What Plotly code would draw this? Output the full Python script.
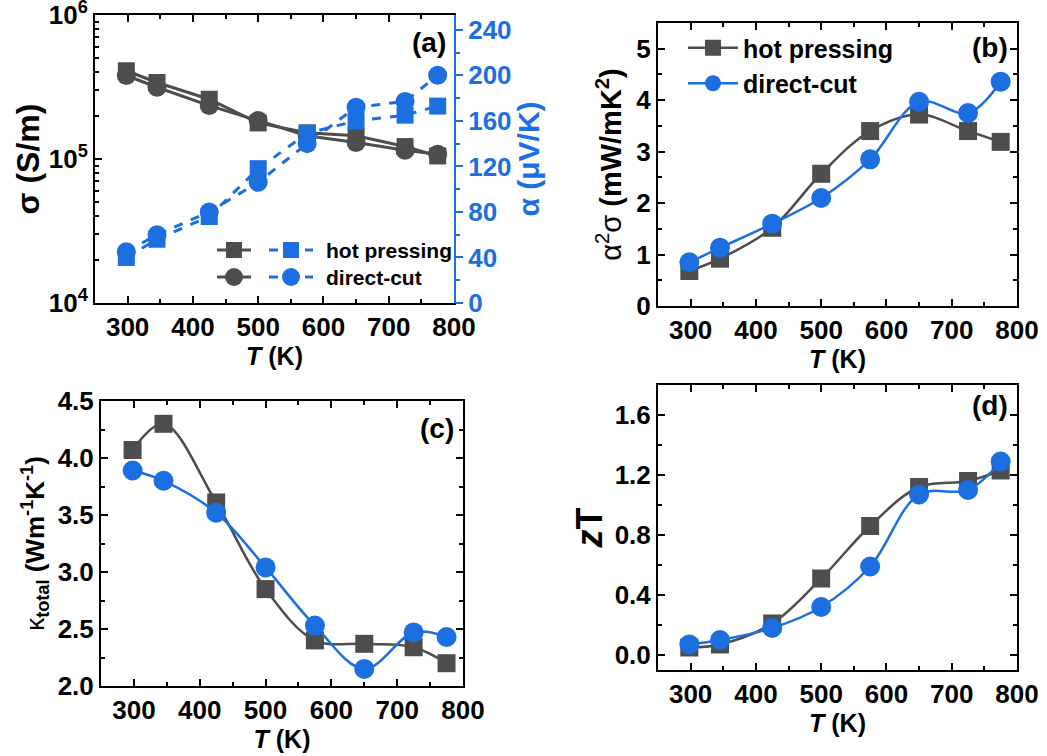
import plotly.graph_objects as go

# ---------------- data ----------------
T = [298, 345, 425, 500, 575, 650, 725, 775]

sigma_hp = [4.1e5, 3.4e5, 2.6e5, 1.78e5, 1.52e5, 1.45e5, 1.22e5, 1.05e5]
sigma_dc = [3.8e5, 3.15e5, 2.35e5, 1.85e5, 1.45e5, 1.30e5, 1.15e5, 1.08e5]
alpha_hp = [40, 56, 76, 118, 149, 160, 165, 173]
alpha_dc = [45, 60, 80, 106, 140, 172, 177, 200]

pf_hp = [0.68, 0.92, 1.52, 2.57, 3.40, 3.72, 3.40, 3.19]
pf_dc = [0.85, 1.13, 1.60, 2.10, 2.85, 3.97, 3.75, 4.36]

kappa_hp = [4.07, 4.30, 3.61, 2.85, 2.40, 2.37, 2.34, 2.20]
kappa_dc = [3.89, 3.80, 3.52, 3.04, 2.53, 2.15, 2.47, 2.43]

zt_hp = [0.05, 0.07, 0.21, 0.51, 0.86, 1.12, 1.16, 1.23]
zt_dc = [0.07, 0.10, 0.18, 0.32, 0.59, 1.07, 1.10, 1.29]

x_ticks = [300, 400, 500, 600, 700, 800]
sigma_ticks = [1e4, 1e5, 1e6]
sigma_ticktext = ["10<sup>4</sup>", "10<sup>5</sup>", "10<sup>6</sup>"]
sigma_minor = [k * 10 ** e for e in (4, 5) for k in range(2, 10)]

series_names = ["hot pressing", "direct-cut"]

# ---------------- style ----------------
W, H = 1047, 756
GRAY = "#4d4d4d"
BLUE = "#1b6fe0"
FONT = "Liberation Sans"
TICKFONT = dict(family=FONT, size=26, color="black", weight="bold")


def px(x):
    return x / W


def py(y):
    return (H - y) / H


fig = go.Figure()

# ---- panel (a) ----
fig.add_trace(go.Scatter(x=T, y=sigma_hp, xaxis="x", yaxis="y", mode="lines+markers",
                         line=dict(color=GRAY, width=3), marker=dict(symbol="square", size=17, color=GRAY),
                         showlegend=False))
fig.add_trace(go.Scatter(x=T, y=sigma_dc, xaxis="x", yaxis="y", mode="lines+markers",
                         line=dict(color=GRAY, width=3), marker=dict(symbol="circle", size=19, color=GRAY),
                         showlegend=False))
fig.add_trace(go.Scatter(x=T, y=alpha_hp, xaxis="x", yaxis="y2", mode="lines+markers",
                         line=dict(color=BLUE, width=3, dash="dash"),
                         marker=dict(symbol="square", size=17, color=BLUE), showlegend=False))
fig.add_trace(go.Scatter(x=T, y=alpha_dc, xaxis="x", yaxis="y2", mode="lines+markers",
                         line=dict(color=BLUE, width=3, dash="dash"),
                         marker=dict(symbol="circle", size=19, color=BLUE), showlegend=False))

# ---- panel (b) ----
fig.add_trace(go.Scatter(x=T, y=pf_hp, xaxis="x2", yaxis="y3", mode="lines+markers", name=series_names[0],
                         line=dict(color=GRAY, width=2.5, shape="spline"),
                         marker=dict(symbol="square", size=18, color=GRAY), showlegend=True))
fig.add_trace(go.Scatter(x=T, y=pf_dc, xaxis="x2", yaxis="y3", mode="lines+markers", name=series_names[1],
                         line=dict(color=BLUE, width=2.5, shape="spline"),
                         marker=dict(symbol="circle", size=20, color=BLUE), showlegend=True))

# ---- panel (c) ----
fig.add_trace(go.Scatter(x=T, y=kappa_hp, xaxis="x3", yaxis="y4", mode="lines+markers",
                         line=dict(color=GRAY, width=2.5, shape="spline"),
                         marker=dict(symbol="square", size=18, color=GRAY), showlegend=False))
fig.add_trace(go.Scatter(x=T, y=kappa_dc, xaxis="x3", yaxis="y4", mode="lines+markers",
                         line=dict(color=BLUE, width=2.5, shape="spline"),
                         marker=dict(symbol="circle", size=20, color=BLUE), showlegend=False))

# ---- panel (d) ----
fig.add_trace(go.Scatter(x=T, y=zt_hp, xaxis="x4", yaxis="y5", mode="lines+markers",
                         line=dict(color=GRAY, width=2.5, shape="spline"),
                         marker=dict(symbol="square", size=18, color=GRAY), showlegend=False))
fig.add_trace(go.Scatter(x=T, y=zt_dc, xaxis="x4", yaxis="y5", mode="lines+markers",
                         line=dict(color=BLUE, width=2.5, shape="spline"),
                         marker=dict(symbol="circle", size=20, color=BLUE), showlegend=False))


def xaxis_common(domain, anchor):
    return dict(domain=domain, anchor=anchor, range=[250, 800], tickvals=x_ticks,
                ticktext=[str(v) for v in x_ticks], automargin=False, ticklabeloverflow="allow",
                ticks="inside", ticklen=7, tickwidth=2, tickcolor="black",
                minor=dict(dtick=50, tick0=250, ticks="inside", ticklen=4, tickwidth=2, tickcolor="black"),
                showline=True, linecolor="black", linewidth=2, mirror="ticks",
                showgrid=False, zeroline=False, tickfont=TICKFONT,
                title=dict(text="<i>T</i> (K)", font=dict(family=FONT, size=25, weight="bold", color="black"),
                           standoff=0))


def yaxis_common(domain, anchor, rng, tickvals, ticktext, minor_dtick, title, tsize, standoff, weight="normal"):
    return dict(domain=domain, anchor=anchor, range=rng, tickvals=tickvals, ticktext=ticktext,
                automargin=False, ticklabeloverflow="allow",
                ticks="inside", ticklen=7, tickwidth=2, tickcolor="black",
                minor=dict(dtick=minor_dtick, tick0=0, ticks="inside", ticklen=4, tickwidth=2, tickcolor="black"),
                showline=True, linecolor="black", linewidth=2, mirror="ticks",
                showgrid=False, zeroline=False, tickfont=TICKFONT,
                title=dict(text=title, font=dict(family=FONT, size=tsize, color="black", weight=weight),
                           standoff=standoff))


dom_a_x = [px(95), px(454)]
dom_a_y = [py(303), py(15)]
dom_b_x = [px(658), px(1017)]
dom_b_y = [py(306), py(23)]
dom_c_x = [px(101), px(463)]
dom_c_y = [py(686), py(401)]
dom_d_x = [px(658), px(1017)]
dom_d_y = [py(670), py(385)]

layout = dict(
    width=W, height=H,
    margin=dict(l=0, r=0, t=0, b=0),
    paper_bgcolor="white", plot_bgcolor="white",
    xaxis=xaxis_common(dom_a_x, "y"),
    xaxis2=xaxis_common(dom_b_x, "y3"),
    xaxis3=xaxis_common(dom_c_x, "y4"),
    xaxis4=xaxis_common(dom_d_x, "y5"),
    yaxis=dict(domain=dom_a_y, anchor="x", type="log", range=[4, 6], automargin=False,
               ticklabeloverflow="allow",
               tickvals=sigma_ticks, ticktext=sigma_ticktext,
               ticks="inside", ticklen=7, tickwidth=2, tickcolor="black",
               minor=dict(tickvals=sigma_minor, ticks="inside", ticklen=4, tickwidth=2, tickcolor="black"),
               showline=True, linecolor="black", linewidth=2, mirror=False,
               showgrid=False, zeroline=False, tickfont=TICKFONT,
               title=dict(text="σ (S/m)", font=dict(family=FONT, size=32, weight="bold", color="black"),
                          standoff=0)),
    yaxis2=dict(overlaying="y", side="right", anchor="x", range=[0, 253], automargin=False,
                ticklabeloverflow="allow",
                tickvals=[0, 40, 80, 120, 160, 200, 240],
                ticks="outside", ticklen=7, tickwidth=2, tickcolor=BLUE,
                minor=dict(dtick=20, ticks="outside", ticklen=4, tickwidth=2, tickcolor=BLUE),
                showline=True, linecolor=BLUE, linewidth=2,
                showgrid=False, zeroline=False,
                tickfont=dict(family=FONT, size=26, color=BLUE, weight="bold"),
                title=dict(text="α (μV/K)", font=dict(family=FONT, size=30, weight="bold", color=BLUE),
                           standoff=4)),
    yaxis3=yaxis_common(dom_b_y, "x2", [0, 5.5], [0, 1, 2, 3, 4, 5], None, 0.5,
                        "α<sup>2</sup>σ <b>(mW/mK<sup>2</sup>)</b>", 29, 6),
    yaxis4=yaxis_common(dom_c_y, "x3", [2.0, 4.5], [2.0, 2.5, 3.0, 3.5, 4.0, 4.5],
                        ["2.0", "2.5", "3.0", "3.5", "4.0", "4.5"], 0.25,
                        "κ<sub><b>total</b></sub> <b>(Wm<sup>-1</sup>K<sup>-1</sup>)</b>", 26, 6),
    yaxis5=yaxis_common(dom_d_y, "x4", [-0.1, 1.8], [0.0, 0.4, 0.8, 1.2, 1.6],
                        ["0.0", "0.4", "0.8", "1.2", "1.6"], 0.2,
                        "<i>z</i>T", 36, 1, weight="bold"),
    legend=dict(x=px(683), y=py(25), xanchor="left", yanchor="top", bgcolor="rgba(0,0,0,0)",
                font=dict(family=FONT, size=25, weight="bold", color="black"),
                itemwidth=50, tracegroupgap=0),
    showlegend=True,
)
fig.update_layout(**layout)

labels = [("(a)", 448, 43), ("(b)", 1010, 47), ("(c)", 456, 428), ("(d)", 1010, 405)]
for txt, x, y in labels:
    fig.add_annotation(text=txt, x=px(x), y=py(y), xref="paper", yref="paper", xanchor="right",
                       yanchor="middle", showarrow=False,
                       font=dict(family=FONT, size=28, weight="bold", color="black"))

# custom two-key legend for panel (a)
rows = [(250, "square", series_names[0]), (277, "circle", series_names[1])]
for yc, sym, name in rows:
    for (xa, xb, xc, col, dash) in [(217, 251, 234, GRAY, "solid"), (269, 313, 291, BLUE, "dash")]:
        fig.add_shape(type="line", xref="paper", yref="paper", x0=px(xa), x1=px(xb), y0=py(yc), y1=py(yc),
                      line=dict(color=col, width=3, dash=dash))
        r = 8 if sym == "square" else 9
        fig.add_shape(type="rect" if sym == "square" else "circle", xref="paper", yref="paper",
                      x0=px(xc - r), x1=px(xc + r), y0=py(yc + r), y1=py(yc - r),
                      line=dict(width=0), fillcolor=col)
    fig.add_annotation(text=name, x=px(324), y=py(yc), xref="paper", yref="paper", xanchor="left",
                       yanchor="middle", showarrow=False,
                       font=dict(family=FONT, size=21, weight="bold", color="black"))

fig.write_html("out.html", config={"displayModeBar": False},
               post_script="document.body.style.margin='0';")
